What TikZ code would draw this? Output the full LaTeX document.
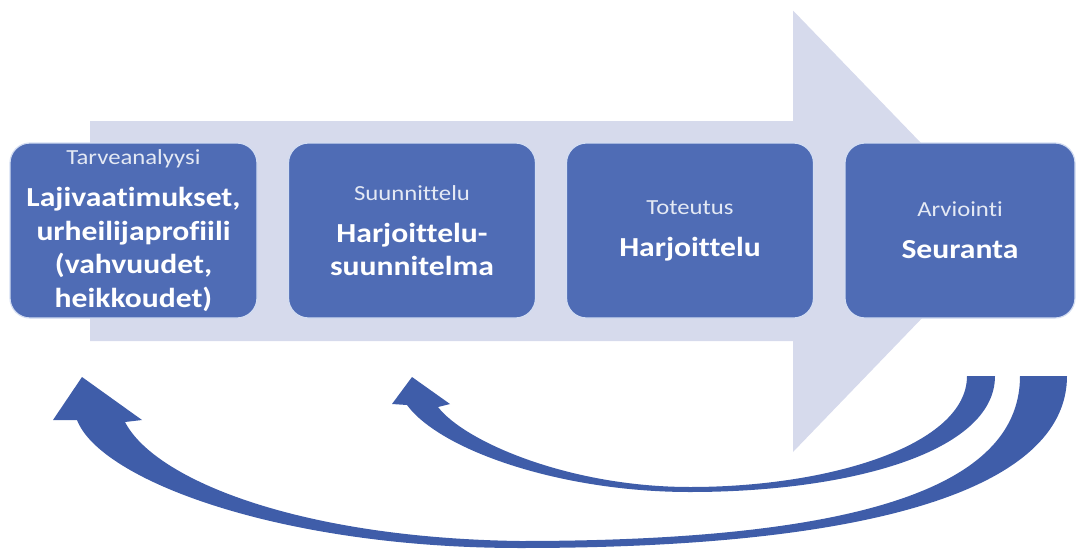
\documentclass[tikz,border=0pt]{standalone}
\usepackage{fontspec}
\setmainfont{Carlito}[FakeStretch=1.15, Ligatures=NoCommon]
\definecolor{boxblue}{HTML}{4F6CB5}
\definecolor{boxedge}{HTML}{D3DDF2}
\definecolor{flowbg}{HTML}{D6DAEC}
\definecolor{loopblue}{HTML}{3F5DA9}
\newcommand{\phase}[2]{{\mdseries\fontsize{21.5}{24}\selectfont\color{white!85!boxblue}#1}\\[8.5pt]#2}

\begin{document}
\begin{tikzpicture}[x=1pt,y=-1pt]
  \tikzset{phasebox/.style={draw=boxedge, line width=1.2pt, fill=boxblue, rounded corners=20pt,
      text=white, align=center, font=\fontsize{27.5}{33.5}\selectfont\bfseries,
      minimum width=247pt, minimum height=175pt, inner sep=0pt}}
  \useasboundingbox (0,0) rectangle (1080,549);
  % big process arrow behind the boxes
  \fill[flowbg] (90,121) -- (793,121) -- (793,10.5) -- (1006,231) -- (793,452) -- (793,341) -- (90,341) -- cycle;
  % phases
  \node[phasebox] (need) at (133.5,230.5) {\phase{Tarveanalyysi}{Lajivaatimukset,\\urheilijaprofiili\\(vahvuudet,\\heikkoudet)}};
  \node[phasebox] (plan) at (412,230.5) {\phase{Suunnittelu}{Harjoittelu-\\suunnitelma}};
  \node[phasebox] (exec) at (690,230.5) {\phase{Toteutus}{Harjoittelu}};
  \node[phasebox, minimum width=230pt] (eval) at (960,230.5) {\phase{Arviointi}{Seuranta}};
  % feedback loops
  \coordinate (tailA) at (967,376);
  \coordinate (tipA) at (412,377);
  \coordinate (tailB) at (1020,376);
  \coordinate (tipB) at (82,377);
  \fill[loopblue] (tailA) -- (995,376) .. controls (995,452) and (850,492) .. (690,492)
      .. controls (560,492) and (440,450) .. (407,405) -- (392,404) -- (tipA) -- (450,404) -- (438,407)
      .. controls (465,442) and (570,487) .. (690,487) .. controls (830,487) and (967,445) .. (tailA) -- cycle;
  \fill[loopblue] (tailB) -- (1067,376) .. controls (1067,480) and (900,548) .. (520,548)
      .. controls (280,548) and (100,480) .. (77,420) -- (53,420) -- (tipB) -- (142,420) -- (125,422)
      .. controls (155,480) and (300,538) .. (520,541) .. controls (880,541) and (1020,480) .. (tailB) -- cycle;
\end{tikzpicture}
\end{document}
